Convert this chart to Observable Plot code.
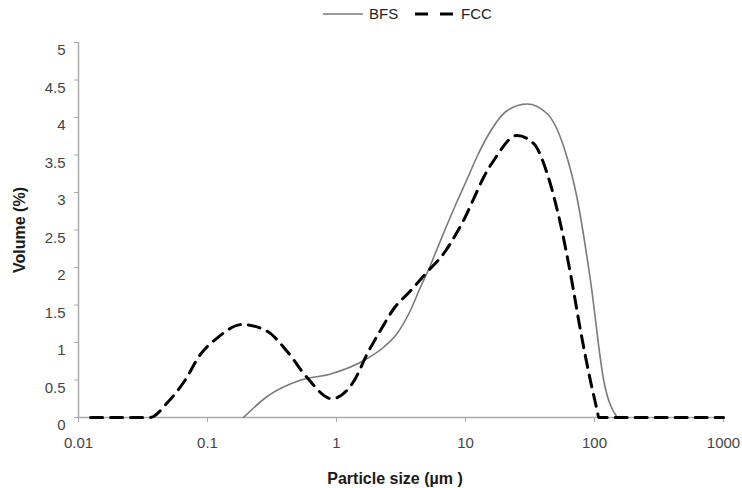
<!DOCTYPE html>
<html>
<head>
<meta charset="utf-8">
<script src="https://cdn.jsdelivr.net/npm/d3@7"></script>
<script src="https://cdn.jsdelivr.net/npm/@observablehq/plot@0.6"></script>
<style>
  html, body { margin: 0; padding: 0; background: #fff; }
  body { width: 742px; height: 488px; overflow: hidden; font-family: "Liberation Sans", Arial, Helvetica, sans-serif; }
  #legend { height: 28px; position: relative; font-size: 15px; color: #222; }
  #legend .item { position: absolute; top: 5px; display: flex; align-items: center; }
  #legend svg { display: block; margin-right: 5px; }
  #chart svg g[aria-label="y-axis label"] text,
  #chart svg g[aria-label="x-axis label"] text { font-weight: bold; fill: #1a1a1a; font-size: 16px; }
</style>
</head>
<body>
<div id="legend"></div>
<div id="chart"></div>
<script>
// Series names
const seriesNames = ["BFS", "FCC"];

// BFS (solid grey)
const bfsSize   = [0.19, 0.29, 0.53, 0.9, 1.63, 2.33, 2.95, 3.75, 4.48, 5.2, 6.03, 7.0, 8.5, 10.3, 12.3, 14.7, 21, 30, 43, 58, 73, 93, 118, 150];
const bfsVolume = [0, 0.28, 0.5, 0.58, 0.76, 0.94, 1.12, 1.43, 1.74, 1.98, 2.25, 2.52, 2.86, 3.18, 3.48, 3.74, 4.09, 4.18, 4.05, 3.6, 2.94, 1.83, 0.49, 0];

// FCC (dashed black)
const fccSize   = [0.0124, 0.036, 0.049, 0.066, 0.088, 0.119, 0.186, 0.29, 0.415, 0.593, 0.92, 1.38, 1.73, 2.19, 2.78, 3.75, 5.05, 7.0, 8.6, 10, 11.6, 13.8, 16.6, 25.1, 33.9, 43, 54.5, 65.1, 77.9, 93, 105, 108, 1000];
const fccVolume = [0, 0, 0.2, 0.48, 0.84, 1.06, 1.24, 1.15, 0.88, 0.53, 0.25, 0.5, 0.85, 1.16, 1.45, 1.69, 1.94, 2.22, 2.47, 2.68, 2.92, 3.2, 3.43, 3.76, 3.65, 3.25, 2.58, 1.92, 1.16, 0.49, 0.09, 0, 0];

// Tick values
const xTicks = [0.01, 0.1, 1, 10, 100, 1000];
const yTicks = [0, 0.5, 1, 1.5, 2, 2.5, 3, 3.5, 4, 4.5, 5];

const bfs = bfsSize.map((s, i) => ({size: s, volume: bfsVolume[i]}));
const fcc = fccSize.map((s, i) => ({size: s, volume: fccVolume[i]}));

const styles = {
  BFS: {stroke: "#7a7a7a", width: 1.6, dash: null},
  FCC: {stroke: "#000000", width: 3, dash: "12,8"}
};

// Legend
const legend = document.getElementById("legend");
const legendX = {BFS: 322, FCC: 414};
seriesNames.forEach(name => {
  const st = styles[name];
  const item = document.createElement("div");
  item.className = "item";
  item.style.left = legendX[name] + "px";
  item.innerHTML = `<svg width="42" height="16"><line x1="1" y1="8" x2="41" y2="8" stroke="${st.stroke}" stroke-width="${st.width}" ${st.dash ? `stroke-dasharray="13,12"` : ""}/></svg><span>${name}</span>`;
  legend.appendChild(item);
});

const chart = Plot.plot({
  width: 742,
  height: 460,
  marginTop: 14,
  marginBottom: 71,
  marginLeft: 78,
  marginRight: 19,
  style: {fontFamily: '"Liberation Sans", Arial, Helvetica, sans-serif', fontSize: "15px", color: "#444", background: "#fff"},
  x: {type: "log", domain: [0.01, 1000]},
  y: {domain: [0, 5]},
  marks: [
    Plot.axisX({ticks: xTicks, tickFormat: d => String(d), tickSize: 5, tickPadding: 15, stroke: "#aaa",
      label: "Particle size (µm )", labelAnchor: "center", labelArrow: "none", labelOffset: 66}),
    Plot.axisY({ticks: yTicks, tickFormat: d => String(d), tickSize: 4, tickPadding: 9, stroke: "#aaa",
      label: "Volume (%)", labelAnchor: "center", labelArrow: "none", labelOffset: 65}),
    Plot.ruleY([0], {stroke: "#aaa", strokeWidth: 1.5}),
    Plot.ruleX([0.01], {stroke: "#aaa", strokeWidth: 1.5}),
    Plot.line(bfs, {x: "size", y: "volume", stroke: styles.BFS.stroke, strokeWidth: styles.BFS.width, curve: "monotone-x"}),
    Plot.line(fcc, {x: "size", y: "volume", stroke: styles.FCC.stroke, strokeWidth: styles.FCC.width, strokeDasharray: styles.FCC.dash, curve: "monotone-x"})
  ]
});
document.getElementById("chart").appendChild(chart);

// Nudge y tick labels slightly down, and the x title slightly left, as in the reference
d3.select(chart).selectAll('g[aria-label="y-axis tick label"] text').attr("dy", "0.52em");
const xl = d3.select(chart).select('g[aria-label="x-axis label"]');
if (!xl.empty()) {
  const t = xl.attr("transform") || "";
  xl.attr("transform", (t + " translate(-6,0)").trim());
}
</script>
</body>
</html>
